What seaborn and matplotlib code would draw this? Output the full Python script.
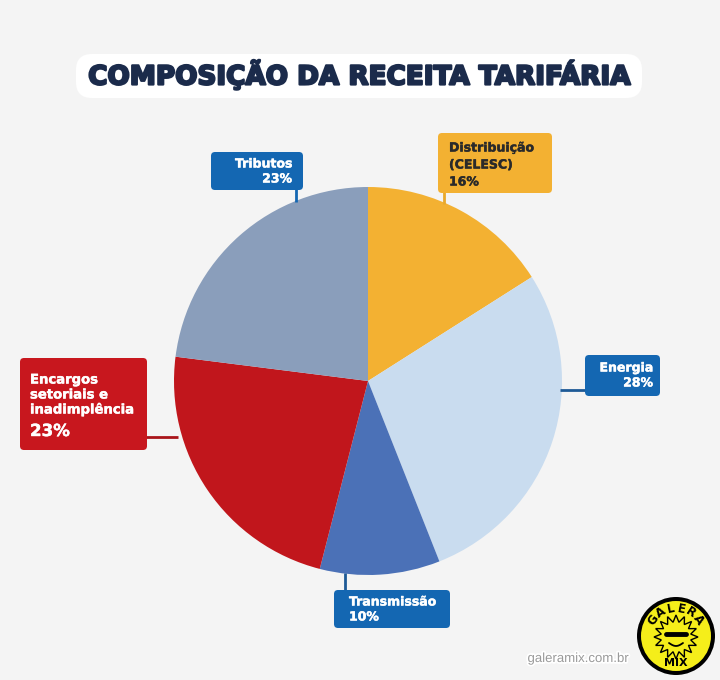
import numpy as np
import matplotlib
matplotlib.use("Agg")
import matplotlib.pyplot as plt
import seaborn as sns
from matplotlib.patches import FancyBboxPatch, Circle, Polygon
import matplotlib.patheffects as pe

# data
categories = ["Distribuição (CELESC)", "Energia", "Transmissão",
              "Encargos setoriais e inadimplência", "Tributos"]
shares = [16, 28, 10, 23, 23]
slice_colors = ["#F3B132", "#C9DCEF", "#4B71B7", "#C1161C", "#8A9EBB"]
title = "COMPOSIÇÃO DA RECEITA TARIFÁRIA"

sns.set_theme(style="white")
plt.rcParams["font.family"] = ["DejaVu Sans"]

BG = "#F4F4F4"
NAVY = "#1B2B4B"
BOXBLUE = "#1467B2"
W, H = 720, 680

fig = plt.figure(figsize=(7.2, 6.8), dpi=100, facecolor=BG)
ax = fig.add_axes([0, 0, 1, 1])
ax.set_facecolor(BG)

def Y(py):
    return H - py

# pie
pal = sns.color_palette(slice_colors)
ax.pie(shares, colors=pal, startangle=90, counterclock=False,
       center=(368, Y(381)), radius=194, frame=True,
       wedgeprops=dict(linewidth=0))
ax.set_xlim(0, W); ax.set_ylim(0, H)
ax.set_aspect("equal")
ax.axis("off")

# title box
ax.add_patch(FancyBboxPatch((76, Y(98)), 566, 44, boxstyle="round,pad=0,rounding_size=16",
                            fc="white", ec="none", zorder=3))
ax.text(359, Y(75), title, ha="center", va="center", fontsize=18.9,
        fontweight="heavy", color=NAVY, zorder=4,
        path_effects=[pe.withStroke(linewidth=1.6, foreground=NAVY)])

def label_box(x0, y0, x1, y1, fc, zorder=5):
    ax.add_patch(FancyBboxPatch((x0, Y(y1)), x1 - x0, y1 - y0,
                                boxstyle="round,pad=0,rounding_size=4",
                                fc=fc, ec="none", zorder=zorder))

def connector(xs, ys, color):
    ax.plot(xs, [Y(v) for v in ys], color=color, lw=2, zorder=4, solid_capstyle="butt")

def lines(x, ys, texts, ha, color, size=9):
    for yy, t in zip(ys, texts):
        ax.text(x, Y(yy), t, ha=ha, va="center", fontsize=size,
                fontweight="bold", color=color, zorder=6,
                path_effects=[pe.withStroke(linewidth=0.3, foreground=color)])

# Tributos
connector([296, 296], [188, 202], BOXBLUE)
label_box(211, 152, 303, 190, BOXBLUE)
lines(292, [164, 179], ["Tributos", "23%"], "right", "white")

# Distribuição
connector([444, 444], [190, 204], "#E9A92C")
label_box(438, 133, 552, 193, "#F3B132")
lines(449, [148, 165, 182], ["Distribuição", "(CELESC)", "16%"], "left", "#2A2A2A")

# Energia
connector([560, 587], [390, 390], "#1E5A96")
label_box(585, 355, 660, 396, BOXBLUE)
lines(653, [368, 383], ["Energia", "28%"], "right", "white")

# Transmissão
connector([345, 345], [573, 592], "#1E5A96")
label_box(334, 590, 450, 628, BOXBLUE)
lines(349, [602, 617], ["Transmissão", "10%"], "left", "white")

# Encargos
connector([145, 178], [437, 437], "#A9141A")
label_box(20, 358, 147, 450, "#C8171E")
lines(30, [380, 395, 410], ["Encargos", "setoriais e", "inadimplência"], "left", "white", 9.5)
lines(30, [431], ["23%"], "left", "white", 12)

# watermark
ax.text(578, Y(659), "galeramix.com.br", ha="center", va="center", fontsize=9.5,
        family="Liberation Sans", color="#9A9A9A", zorder=6,
        path_effects=[pe.withStroke(linewidth=2.5, foreground="white")])

# logo
cx, cy = 676, Y(636)
ax.add_patch(Circle((cx, cy), 39, fc="black", ec="none", zorder=6))
ax.add_patch(Circle((cx, cy), 35, fc="#F5EE1A", ec="none", zorder=7))
ang = np.linspace(0, 2 * np.pi, 33)[:-1]
rr = np.where(np.arange(32) % 2 == 0, 22, 15)
star = np.column_stack([cx + rr * np.cos(ang), cy - 1 + rr * np.sin(ang)])
ax.add_patch(Polygon(star, closed=True, fc="#F5EE1A", ec="black", lw=1, zorder=8))
ax.plot([cx - 10, cx + 10], [cy + 2, cy + 2], color="black", lw=3.5, zorder=9)
ax.plot(np.linspace(cx - 7, cx + 7, 10),
        cy - 7 - 3 * np.sin(np.linspace(0, np.pi, 10)), color="black", lw=1.3, zorder=9)
for i, ch in enumerate("GALERA"):
    a = np.deg2rad(145 - i * 22)
    ax.text(cx + 27.5 * np.cos(a), cy + 27.5 * np.sin(a), ch, ha="center", va="center",
            rotation=np.rad2deg(a) - 90, fontsize=8.5, fontweight="heavy", color="black", zorder=9)
ax.text(cx, cy - 27, "MIX", ha="center", va="center", fontsize=8,
        fontweight="heavy", color="black", zorder=9)

fig.savefig("out.png", dpi=100, facecolor=BG)
